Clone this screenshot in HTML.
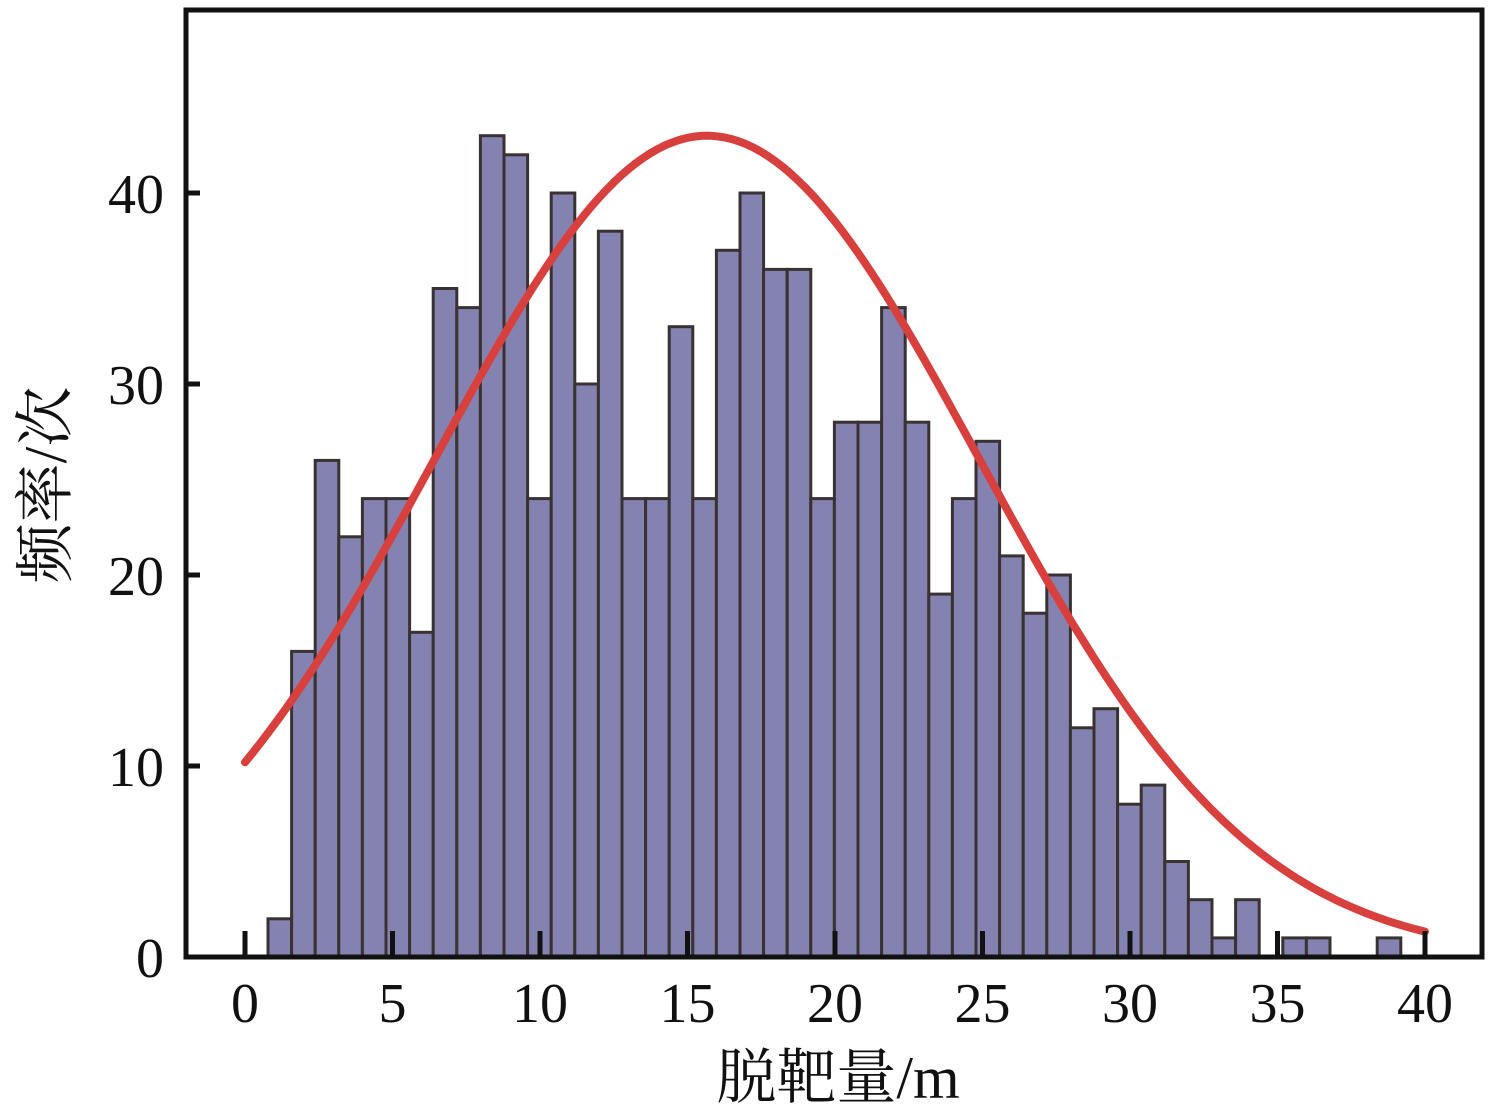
<!DOCTYPE html>
<html><head><meta charset="utf-8"><style>
html,body{margin:0;padding:0;background:#fff;}
svg{display:block;}
</style></head><body>
<svg id="s" width="1512" height="1114" xmlns="http://www.w3.org/2000/svg" font-family="Liberation Serif, Noto Serif CJK SC, serif">
<g id="bars"></g>
<path id="curve" fill="none" stroke="#d8403e" stroke-width="8" stroke-linecap="round"/>
<rect x="186" y="10" width="1296" height="947" fill="none" stroke="#111" stroke-width="5"/>
<g stroke="#111" stroke-width="5" id="ticks"></g>
<g font-size="56" fill="#111" text-anchor="end">
<text x="164" y="977">0</text>
<text x="164" y="786">10</text>
<text x="164" y="595">20</text>
<text x="164" y="404">30</text>
<text x="164" y="213">40</text>
</g>
<g font-size="56" fill="#111" text-anchor="middle" id="xl"></g>
<text x="838" y="1098" font-size="60" text-anchor="middle" fill="#111">脱靶量/m</text>
<text transform="translate(66,485) rotate(-90)" font-size="60" text-anchor="middle" fill="#111">频率/次</text>
</svg>
<script>
var H=[2,16,26,22,24,24,17,35,34,43,42,24,40,30,38,24,24,33,24,37,40,36,36,24,28,28,34,28,19,24,27,21,18,20,12,13,8,9,5,3,1,3,0,1,1,0,0,1];
var ns="http://www.w3.org/2000/svg",b=document.getElementById('bars');
H.forEach(function(h,i){if(!h)return;var r=document.createElementNS(ns,'rect');
var x=268+i*23.6,y=957-h*19.1;r.setAttribute('x',x);r.setAttribute('y',y);r.setAttribute('width',23.6);r.setAttribute('height',957-y);
r.setAttribute('fill','#8482b0');r.setAttribute('stroke','#3a3232');r.setAttribute('stroke-width','3');b.appendChild(r);});
var d='';for(var t=0;t<=40.001;t+=0.25){var v=43*Math.exp(-Math.pow(t-15.66,2)/(2*85.2));d+=(t?'L':'M')+(245+t*29.5).toFixed(1)+' '+(957-v*19.1).toFixed(1);}
document.getElementById('curve').setAttribute('d',d);
var tk=document.getElementById('ticks'),xl=document.getElementById('xl');
for(var k=0;k<=8;k++){var x=245+k*147.5;var l=document.createElementNS(ns,'line');l.setAttribute('x1',x);l.setAttribute('x2',x);l.setAttribute('y1',931);l.setAttribute('y2',957);tk.appendChild(l);
var tx=document.createElementNS(ns,'text');tx.setAttribute('x',x);tx.setAttribute('y',1022);tx.textContent=k*5;xl.appendChild(tx);}
[766,575,384,193].forEach(function(y){var l=document.createElementNS(ns,'line');l.setAttribute('x1',186);l.setAttribute('x2',200);l.setAttribute('y1',y);l.setAttribute('y2',y);tk.appendChild(l);});
</script>
</body></html>
